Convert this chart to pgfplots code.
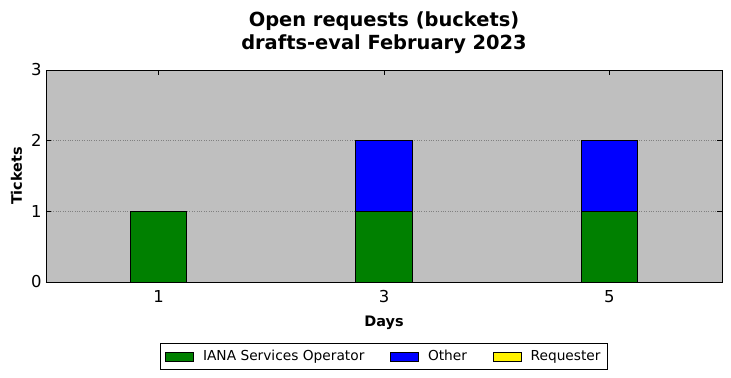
\documentclass[border=0pt]{standalone}
\usepackage{pgfplots}
\pgfplotsset{compat=1.18}
\usepackage{fontspec}
\setmainfont{DejaVu Sans}
\definecolor{mplgreen}{RGB}{0,128,0}
\definecolor{bggray}{RGB}{191,191,191}
\begin{document}
\begin{tikzpicture}
\useasboundingbox (-46bp,-96bp) rectangle (685bp,282bp);
\begin{axis}[
  at={(0,0)}, anchor=south west,
  scale only axis,
  width=676bp, height=212bp,
  ybar stacked,
  bar width=0.5,
  xmin=0, xmax=6, ymin=0, ymax=3,
  xtick={1,3,5}, ytick={0,1,2,3},
  tick align=inside,
  major tick length=5bp,
  axis background/.style={fill=bggray},
  ymajorgrids,
  major grid style={dotted, gray, line width=0.5pt},
  axis line style={line width=0.8pt},
  tick style={black, line width=0.6pt},
  /pgf/number format/assume math mode=true,
  ticklabel style={font=\fontsize{16.5}{19}\selectfont},
  xticklabel style={yshift=-5bp},
  yticklabel style={xshift=-1bp},
  xlabel={\textbf{Days}},
  ylabel={\textbf{Tickets}},
  xlabel style={font=\fontsize{14.5}{17}\selectfont, yshift=-6bp},
  ylabel style={font=\fontsize{14.5}{17}\selectfont, yshift=2bp},
  title style={font=\fontsize{19.5}{23}\selectfont\bfseries, align=center, yshift=7bp},
  title={Open requests (buckets)\\drafts-eval February 2023},
  legend style={at={(0.5,-0.288)}, anchor=north, legend columns=3,
    font=\fontsize{13.8}{16}\selectfont, draw=black, line width=0.6pt,
    /tikz/every even column/.append style={column sep=24bp},
    /tikz/every odd column/.append style={column sep=7bp},
    inner xsep=5bp, inner ysep=5bp},
  legend image code/.code={\draw[#1, line width=0.6pt] (0bp,-4.5bp) rectangle (28bp,4.5bp);},
]
\addplot[fill=mplgreen, draw=black, line width=0.8pt] coordinates {(1,1) (3,1) (5,1)};
\addplot[fill=blue, draw=black, line width=0.8pt] coordinates {(1,0) (3,1) (5,1)};
\addplot[fill=yellow, draw=black, line width=0.8pt] coordinates {(1,0) (3,0) (5,0)};
\legend{IANA Services Operator, Other, Requester}
\end{axis}
\end{tikzpicture}
\end{document}
